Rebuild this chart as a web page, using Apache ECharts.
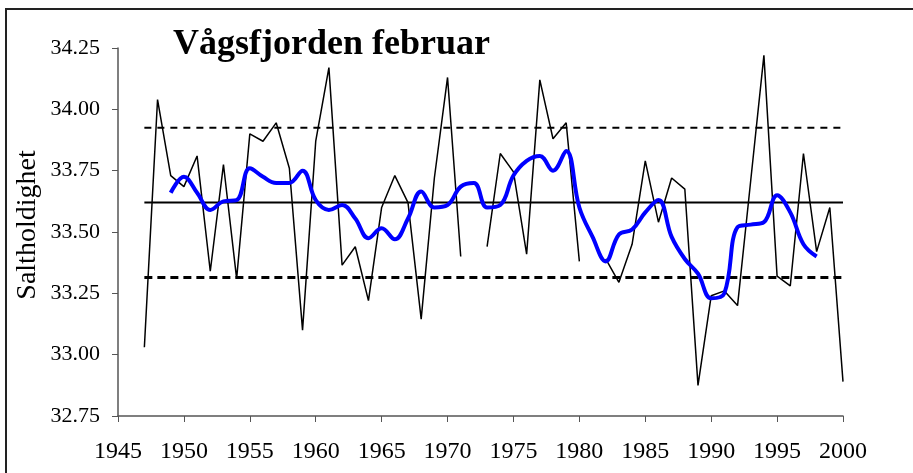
<!DOCTYPE html>
<html>
<head>
<meta charset="utf-8">
<script src="https://cdn.jsdelivr.net/npm/echarts@6/dist/echarts.min.js"></script>
<style>
  html, body { margin: 0; padding: 0; background: #fff; }
  #chart { width: 913px; height: 473px; }
</style>
</head>
<body>
<div id="chart"></div>
<script>
// årlige verdier (februar), null = mangler
let years = [1947, 1948, 1949, 1950, 1951, 1952, 1953, 1954, 1955, 1956,
  1957, 1958, 1959, 1960, 1961, 1962, 1963, 1964, 1965, 1966,
  1967, 1968, 1969, 1970, 1971, 1972, 1973, 1974, 1975, 1976,
  1977, 1978, 1979, 1980, 1981, 1982, 1983, 1984, 1985, 1986,
  1987, 1988, 1989, 1990, 1991, 1992, 1993, 1994, 1995, 1996,
  1997, 1998, 1999, 2000]
let salinity = [33.03, 34.04, 33.73, 33.685, 33.81, 33.34, 33.775, 33.31, 33.90, 33.87,
  33.945, 33.76, 33.10, 33.87, 34.17, 33.365, 33.44, 33.22, 33.60, 33.73,
  33.62, 33.145, 33.72, 34.13, 33.40, null, 33.44, 33.82, 33.745, 33.41,
  34.12, 33.88, 33.945, 33.38, null, 33.39, 33.295, 33.45, 33.79, 33.54,
  33.72, 33.675, 32.875, 33.24, 33.26, 33.20, 33.71, 34.22, 33.32, 33.28,
  33.82, 33.42, 33.60, 32.89]

// glidende middel
let smoothYears = [1949, 1950, 1951, 1952, 1953, 1954, 1955, 1956, 1957, 1958,
  1959, 1960, 1961, 1962, 1963, 1964, 1965, 1966, 1967, 1968,
  1969, 1970, 1971, 1972, 1973, 1974, 1975, 1976, 1977, 1978,
  1979, 1980, 1981, 1982, 1983, 1984, 1985, 1986, 1987, 1988,
  1989, 1990, 1991, 1992, 1993, 1994, 1995, 1996, 1997, 1998]
let smoothVals = [33.66, 33.725, 33.66, 33.59, 33.625, 33.63, 33.76, 33.725, 33.70, 33.70,
  33.75, 33.63, 33.59, 33.61, 33.555, 33.475, 33.515, 33.47, 33.555, 33.665,
  33.60, 33.61, 33.685, 33.70, 33.60, 33.61, 33.73, 33.79, 33.81, 33.75,
  33.83, 33.60, 33.48, 33.38, 33.49, 33.51, 33.58, 33.63, 33.48, 33.39,
  33.33, 33.23, 33.25, 33.52, 33.53, 33.54, 33.65, 33.58, 33.45, 33.40]

// middel og +/- standardavvik
let refRange = [1947, 2000]
let meanVal = 33.62
let upperVal = 33.925
let lowerVal = 33.315

let yTicks = ['32.75', '33.00', '33.25', '33.50', '33.75', '34.00', '34.25']
let xTicks = ['1945', '1950', '1955', '1960', '1965', '1970', '1975', '1980', '1985', '1990', '1995', '2000']

let serif = 'Liberation Serif, Times New Roman, serif'

function pairs(xs, ys) {
  let out = []
  for (let i = 0; i < xs.length; i++) {
    out.push([xs[i], ys[i] === null ? '-' : ys[i]])
  }
  return out
}

function flat(v) {
  return [[refRange[0], v], [refRange[1], v]]
}

let chart = echarts.init(document.getElementById('chart'))
chart.setOption({
  animation: false,
  backgroundColor: '#fff',
  title: {
    text: 'Vågsfjorden februar',
    left: 168,
    top: 22,
    textStyle: {
      fontFamily: serif,
      fontWeight: 'bold',
      fontSize: 36,
      color: '#000'
    }
  },
  graphic: [
    {
      type: 'rect',
      shape: { x: 6, y: 9, width: 1000, height: 1000 },
      style: { fill: 'none', stroke: '#222', lineWidth: 2 },
      silent: true
    },
    {
      // y-aksetittel
      type: 'text',
      x: 28,
      y: 225,
      rotation: Math.PI / 2,
      style: {
        text: 'Saltholdighet',
        font: '28px ' + serif,
        fill: '#000',
        textAlign: 'center',
        textVerticalAlign: 'middle'
      },
      silent: true
    }
  ],
  grid: {
    left: 118,
    right: 70,
    top: 48,
    bottom: 57
  },
  xAxis: {
    type: 'value',
    min: 1945,
    max: 2000,
    interval: 5,
    axisLine: { lineStyle: { color: '#555', width: 1.5 } },
    axisTick: { show: true, length: 6, lineStyle: { color: '#555' } },
    splitLine: { show: false },
    axisLabel: {
      margin: 24,
      color: '#000',
      fontFamily: serif,
      fontSize: 24,
      formatter: function (v) {
        return xTicks.indexOf(String(v)) >= 0 ? String(v) : ''
      }
    }
  },
  yAxis: {
    type: 'value',
    min: 32.75,
    max: 34.25,
    interval: 0.25,
    axisLine: { show: true, lineStyle: { color: '#555', width: 1.5 } },
    axisTick: { show: true, length: 6, lineStyle: { color: '#555' } },
    splitLine: { show: false },
    axisLabel: {
      margin: 18,
      color: '#000',
      fontFamily: serif,
      fontSize: 22,
      formatter: function (v) {
        return yTicks[Math.round((v - 32.75) / 0.25)]
      }
    }
  },
  series: [
    {
      name: 'upper',
      type: 'line',
      data: flat(upperVal),
      symbol: 'none',
      lineStyle: { color: '#000', width: 2, type: [7, 6] },
      z: 2
    },
    {
      name: 'lower',
      type: 'line',
      data: flat(lowerVal),
      symbol: 'none',
      lineStyle: { color: '#000', width: 3, type: [8, 5] },
      z: 2
    },
    {
      name: 'mean',
      type: 'line',
      data: flat(meanVal),
      symbol: 'none',
      lineStyle: { color: '#000', width: 2 },
      z: 2
    },
    {
      name: 'februar',
      type: 'line',
      data: pairs(years, salinity),
      symbol: 'none',
      connectNulls: false,
      lineStyle: { color: '#000', width: 1.5 },
      z: 3
    },
    {
      name: 'middel',
      type: 'line',
      data: pairs(smoothYears, smoothVals),
      symbol: 'none',
      smooth: 0.4,
      lineStyle: { color: '#0000ff', width: 4 },
      z: 4
    }
  ]
})
window.onresize = () => {
  chart.resize()
}
</script>
</body>
</html>
